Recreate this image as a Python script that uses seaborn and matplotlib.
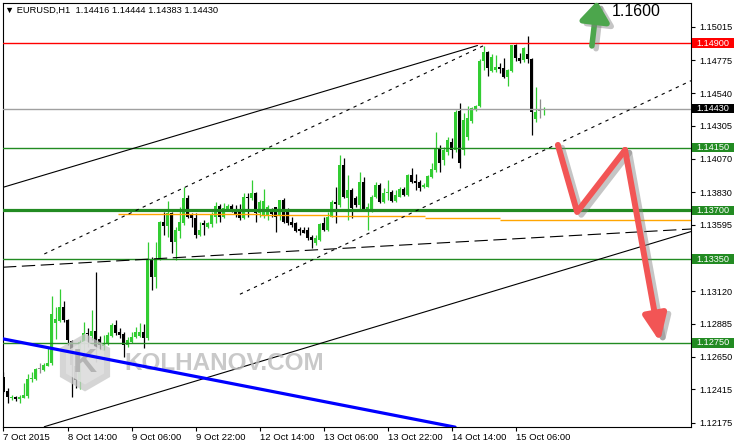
import numpy as np
import pandas as pd
import matplotlib
matplotlib.use("Agg")
import matplotlib.pyplot as plt
import matplotlib.patheffects as pe
from matplotlib.patches import RegularPolygon, Rectangle
from matplotlib.transforms import IdentityTransform, blended_transform_factory
import seaborn as sns

# EURUSD H1 candles, 7 Oct 2015 22:00 .. 15 Oct 2015
opens = [1.12507, 1.12405, 1.12354, 1.12364, 1.12345, 1.12356, 1.12371, 1.12488, 1.12491, 1.12562,
         1.12555, 1.12586, 1.12603, 1.12890, 1.12909, 1.13009, 1.12914, 1.12763, 1.12584, 1.12483,
         1.12758, 1.12823, 1.12799, 1.12835, 1.12777, 1.12729, 1.12746, 1.12801, 1.12878, 1.12830,
         1.12813, 1.12734, 1.12758, 1.12790, 1.12799, 1.12830, 1.12782, 1.13351, 1.13220, 1.13351,
         1.13618, 1.13590, 1.13683, 1.13475, 1.13554, 1.13607, 1.13786, 1.13666, 1.13647, 1.13523,
         1.13607, 1.13578, 1.13600, 1.13654, 1.13731, 1.13654, 1.13710, 1.13731, 1.13702, 1.13686,
         1.13643, 1.13798, 1.13786, 1.13822, 1.13679, 1.13666, 1.13666, 1.13690, 1.13722, 1.13661,
         1.13774, 1.13690, 1.13618, 1.13607, 1.13568, 1.13559, 1.13559, 1.13507, 1.13464, 1.13487,
         1.13607, 1.13559, 1.13654, 1.13762, 1.13738, 1.14025, 1.13786, 1.13846, 1.13786, 1.13738,
         1.13905, 1.13702, 1.13702, 1.13793, 1.13881, 1.13762, 1.13826, 1.13834, 1.13769, 1.13798,
         1.13853, 1.13810, 1.13953, 1.13912, 1.13905, 1.13865, 1.13869, 1.13941, 1.13989, 1.14138,
         1.14061, 1.14118, 1.14190, 1.14133, 1.14414, 1.14133, 1.14228, 1.14343, 1.14419, 1.14448,
         1.14773, 1.14837, 1.14701, 1.14706, 1.14730, 1.14718, 1.14658, 1.14701, 1.14885, 1.14790,
         1.14778, 1.14821, 1.14783, 1.14353, 1.14410, 1.14416]
highs = [1.12543, 1.12424, 1.12376, 1.12369, 1.12376, 1.12460, 1.12526, 1.12543, 1.12567, 1.12603,
         1.12603, 1.12722, 1.13088, 1.13009, 1.13136, 1.13052, 1.12921, 1.12770, 1.12646, 1.12770,
         1.12901, 1.12854, 1.12985, 1.13260, 1.12799, 1.12806, 1.12830, 1.12890, 1.12914, 1.12854,
         1.12830, 1.12794, 1.12830, 1.12866, 1.12894, 1.12885, 1.13475, 1.13363, 1.13475, 1.13626,
         1.13690, 1.13769, 1.13690, 1.13583, 1.13726, 1.13869, 1.13810, 1.13679, 1.13679, 1.13618,
         1.13631, 1.13618, 1.13690, 1.13762, 1.13745, 1.13750, 1.13745, 1.13745, 1.13738, 1.13745,
         1.13826, 1.13826, 1.13917, 1.13834, 1.13774, 1.13851, 1.13738, 1.13715, 1.13726, 1.13774,
         1.13786, 1.13715, 1.13654, 1.13618, 1.13583, 1.13578, 1.13578, 1.13523, 1.13523, 1.13607,
         1.13654, 1.13690, 1.13774, 1.13869, 1.14097, 1.14073, 1.13953, 1.13858, 1.13803, 1.13977,
         1.13941, 1.13750, 1.13810, 1.13905, 1.13894, 1.13858, 1.13917, 1.13846, 1.13846, 1.13869,
         1.13865, 1.13961, 1.14001, 1.13961, 1.13917, 1.13894, 1.13953, 1.14040, 1.14264, 1.14168,
         1.14154, 1.14226, 1.14219, 1.14419, 1.14472, 1.14396, 1.14448, 1.14443, 1.14455, 1.14783,
         1.14878, 1.14845, 1.14821, 1.14814, 1.14754, 1.14790, 1.14711, 1.14885, 1.14893, 1.14826,
         1.14873, 1.14950, 1.14790, 1.14583, 1.14498, 1.14444]
lows = [1.12390, 1.12321, 1.12340, 1.12335, 1.12321, 1.12352, 1.12352, 1.12471, 1.12483, 1.12531,
        1.12550, 1.12586, 1.12591, 1.12775, 1.12901, 1.12901, 1.12734, 1.12359, 1.12424, 1.12419,
        1.12675, 1.12722, 1.12770, 1.12612, 1.12698, 1.12698, 1.12734, 1.12794, 1.12806, 1.12782,
        1.12650, 1.12722, 1.12746, 1.12782, 1.12794, 1.12713, 1.12770, 1.13129, 1.13141, 1.13344,
        1.13523, 1.13511, 1.13392, 1.13344, 1.13499, 1.13595, 1.13643, 1.13583, 1.13499, 1.13518,
        1.13523, 1.13571, 1.13583, 1.13607, 1.13618, 1.13643, 1.13702, 1.13690, 1.13654, 1.13631,
        1.13636, 1.13654, 1.13774, 1.13618, 1.13654, 1.13643, 1.13631, 1.13654, 1.13547, 1.13631,
        1.13607, 1.13595, 1.13583, 1.13547, 1.13523, 1.13535, 1.13487, 1.13428, 1.13451, 1.13482,
        1.13554, 1.13552, 1.13650, 1.13607, 1.13726, 1.13786, 1.13631, 1.13643, 1.13726, 1.13702,
        1.13697, 1.13559, 1.13690, 1.13786, 1.13750, 1.13755, 1.13774, 1.13762, 1.13762, 1.13793,
        1.13805, 1.13805, 1.13894, 1.13846, 1.13841, 1.13858, 1.13865, 1.13930, 1.13977, 1.13977,
        1.14025, 1.14097, 1.14075, 1.14118, 1.14003, 1.14097, 1.14204, 1.14324, 1.14412, 1.14439,
        1.14706, 1.14663, 1.14694, 1.14694, 1.14682, 1.14647, 1.14591, 1.14694, 1.14773, 1.14759,
        1.14766, 1.14754, 1.14240, 1.14336, 1.14360, 1.14383]
closes = [1.12399, 1.12359, 1.12364, 1.12347, 1.12364, 1.12376, 1.12491, 1.12500, 1.12562, 1.12562,
          1.12591, 1.12605, 1.12957, 1.12921, 1.13009, 1.12914, 1.12770, 1.12591, 1.12483, 1.12758,
          1.12818, 1.12813, 1.12835, 1.12722, 1.12734, 1.12746, 1.12806, 1.12878, 1.12823, 1.12806,
          1.12734, 1.12770, 1.12794, 1.12825, 1.12830, 1.12782, 1.13351, 1.13220, 1.13351, 1.13618,
          1.13590, 1.13683, 1.13475, 1.13559, 1.13618, 1.13786, 1.13654, 1.13643, 1.13523, 1.13559,
          1.13595, 1.13611, 1.13666, 1.13731, 1.13654, 1.13715, 1.13731, 1.13710, 1.13666, 1.13643,
          1.13798, 1.13786, 1.13822, 1.13679, 1.13762, 1.13769, 1.13722, 1.13674, 1.13654, 1.13774,
          1.13614, 1.13611, 1.13595, 1.13554, 1.13554, 1.13540, 1.13499, 1.13487, 1.13499, 1.13602,
          1.13559, 1.13654, 1.13762, 1.13745, 1.14025, 1.13798, 1.13846, 1.13715, 1.13738, 1.13905,
          1.13702, 1.13726, 1.13793, 1.13881, 1.13762, 1.13822, 1.13834, 1.13769, 1.13810, 1.13853,
          1.13810, 1.13953, 1.13905, 1.13898, 1.13858, 1.13881, 1.13946, 1.13994, 1.14138, 1.14037,
          1.14133, 1.14204, 1.14133, 1.14407, 1.14037, 1.14348, 1.14360, 1.14432, 1.14448, 1.14773,
          1.14837, 1.14718, 1.14802, 1.14730, 1.14711, 1.14658, 1.14706, 1.14885, 1.14790, 1.14773,
          1.14862, 1.14783, 1.14407, 1.14407, 1.14410, 1.14430]

time_ticks = [0, 16, 32, 48, 64, 80, 96, 112, 128]
time_labels = ["7 Oct 2015", "8 Oct 14:00", "9 Oct 06:00", "9 Oct 22:00", "12 Oct 14:00",
               "13 Oct 06:00", "13 Oct 22:00", "14 Oct 14:00", "15 Oct 06:00"]
price_ticks = [1.15015, 1.14775, 1.14540, 1.14305, 1.14070, 1.13830, 1.13595,
               1.13120, 1.12885, 1.12650, 1.12415, 1.12175]

levels = [1.14900, 1.14430, 1.14150, 1.13700, 1.13350, 1.12750]
level_line_colors = ["#ff0000", "#a0a0a0", "#228b22", "#228b22", "#228b22", "#228b22"]
level_box_colors = ["#ff0000", "#000000", "#228b22", "#228b22", "#228b22", "#228b22"]
level_widths = [1.0, 1.0, 1.0, 2.3, 1.0, 1.0]

# stepped orange line
orange_start = [28.6, 64.1, 81.6, 105.4, 124.1]
orange_end = [64.1, 81.6, 105.4, 124.1, 171.9]
orange_level = [1.13677, 1.13667, 1.13660, 1.13647, 1.13634]

# trend lines: (x0, x1), (y0, y1)
upper_solid = ([-0.125, 118.5], [1.13865, 1.14882])
mid_dotted = ([10.2, 120.0], [1.13387, 1.14881])
low_dotted = ([59.1, 171.9], [1.13098, 1.14630])
long_dashed = ([-0.125, 171.9], [1.13292, 1.13566])
low_solid = ([10.2, 171.9], [1.12148, 1.13548])
blue_line = ([-0.125, 112.9], [1.12778, 1.12145])

# forecast arrows
red_x = [138.6, 143.4, 155.4, 164.1]
red_y = [1.14169, 1.13688, 1.14133, 1.12756]
green_x = [147.1, 148.4]
green_y = [1.14879, 1.15201]

sns.set_style("white")
plt.rcParams["font.family"] = ["Liberation Sans", "DejaVu Sans"]

W, H = 734, 445
L, R, T, B = 3, 691, 3, 427
fig = plt.figure(figsize=(W / 100, H / 100), dpi=100)
ax = fig.add_axes([L / W, 1 - B / H, (R - L) / W, (B - T) / H])
ax.set_xlim(-0.125, 171.875)
ax.set_ylim(1.12146, 1.15187)

df = pd.DataFrame({"o": opens, "h": highs, "l": lows, "c": closes})
df["i"] = np.arange(len(df))
col = np.where(df.c > df.o, "#32cd32", np.where(df.c < df.o, "#000000", "#8c8c8c"))
top = df[["h", "o", "c"]].max(axis=1)
bot = df[["l", "o", "c"]].min(axis=1)
ax.vlines(df.i, bot, top, colors=col, lw=0.9, zorder=2)
body_lo = np.minimum(df.o, df.c)
body_h = np.maximum((df.c - df.o).abs(), 0.00008)
ax.bar(df.i, body_h, bottom=body_lo, width=0.75, color=col, linewidth=0, zorder=2)

# horizontal levels
for p, lc, w in zip(levels, level_line_colors, level_widths):
    ax.axhline(p, color=lc, lw=w, zorder=3)
ax.hlines(orange_level, orange_start, orange_end, colors="#ffa500", lw=1.0, zorder=2.8)

# trend lines
sns.lineplot(x=upper_solid[0], y=upper_solid[1], color="black", lw=0.8, ax=ax, zorder=3)
sns.lineplot(x=mid_dotted[0], y=mid_dotted[1], color="black", lw=0.8, linestyle=(0, (3, 4)), ax=ax, zorder=3)
sns.lineplot(x=low_dotted[0], y=low_dotted[1], color="black", lw=0.8, linestyle=(0, (3, 4)), ax=ax, zorder=3)
sns.lineplot(x=long_dashed[0], y=long_dashed[1], color="black", lw=0.8, linestyle=(0, (12, 5)), ax=ax, zorder=3)
sns.lineplot(x=low_solid[0], y=low_solid[1], color="black", lw=0.8, ax=ax, zorder=3)
sns.lineplot(x=blue_line[0], y=blue_line[1], color="#0000ff", lw=2.3, ax=ax, zorder=3.5)

# watermark
wm_x = lambda px: (px - L) / (R - L)
wm_y = lambda py: (B - py) / (B - T)
ax.add_patch(RegularPolygon((85, H - 362.5), 6, radius=29, transform=IdentityTransform(),
                            fc="#c8c8c8", ec="none", alpha=0.75, zorder=3.2))
ax.add_patch(RegularPolygon((85, H - 362.5), 6, radius=22, transform=IdentityTransform(),
                            fc="#e2e2e2", ec="none", alpha=0.8, zorder=3.2))
ax.text(wm_x(85), wm_y(363), "K", transform=ax.transAxes, fontsize=24, fontweight="bold",
        color="#b4b4b4", ha="center", va="center", zorder=3.3)
ax.text(wm_x(124), wm_y(363), "KOLHANOV.COM", transform=ax.transAxes, fontsize=17.5,
        fontweight="bold", color="#bcbcbc", alpha=0.8, ha="left", va="center", zorder=3.3)

# red forecast zigzag
shadow = [pe.SimpleLineShadow(offset=(3, -2), shadow_color="#808080", alpha=0.45), pe.Normal()]
ax.plot(red_x[:3], red_y[:3], color="#f25555", lw=4.3, solid_capstyle="round",
        solid_joinstyle="round", path_effects=shadow, zorder=5)
ax.annotate("", xy=(red_x[3], red_y[3]), xytext=(red_x[2], red_y[2]), zorder=5,
            arrowprops=dict(arrowstyle="-|>,head_length=0.8,head_width=0.35", lw=4.3,
                            color="#f25555", mutation_scale=20, shrinkA=0, shrinkB=0,
                            path_effects=shadow))
ax.annotate("", xy=(green_x[1], green_y[1]), xytext=(green_x[0], green_y[0]), zorder=5,
            annotation_clip=False,
            arrowprops=dict(arrowstyle="-|>,head_length=0.6,head_width=0.45", lw=4.0,
                            color="#4ca64c", mutation_scale=20, shrinkA=0, shrinkB=0,
                            path_effects=shadow, clip_on=False))
fig.text(612 / W, 1 - 11 / H, "1.1600", fontsize=11.5, color="black", ha="left", va="center")

# axes styling
for s in ax.spines.values():
    s.set_color("black")
    s.set_linewidth(0.8)
ax.yaxis.tick_right()
ax.set_yticks(price_ticks)
ax.set_yticklabels([f"{p:.5f}" for p in price_ticks])
ax.set_xticks(time_ticks)
ax.set_xticklabels(time_labels, ha="left")
ax.tick_params(axis="y", direction="out", length=3, width=0.8, pad=3, labelsize=6.6,
               colors="black", right=True, left=False)
ax.tick_params(axis="x", direction="out", length=3, width=0.8, pad=1.5, labelsize=6.8,
               colors="black", bottom=True)
ax.set_xlabel("")
ax.set_ylabel("")
ax.grid(False)

# level price boxes on the scale
bt = blended_transform_factory(ax.transAxes, ax.transData)
box_h = 0.00068
for p, bc in zip(levels, level_box_colors):
    ax.add_patch(Rectangle((wm_x(692), p - box_h / 2), wm_x(734) - wm_x(692), box_h,
                           transform=bt, fc=bc, ec="none", clip_on=False, zorder=6))
    ax.text(wm_x(696.5), p, f"{p:.5f}", transform=bt, color="white", fontsize=6.6,
            ha="left", va="center", clip_on=False, zorder=7)

fig.text(5 / W, 1 - 10.7 / H, "\u25bc EURUSD,H1  1.14416 1.14444 1.14383 1.14430",
         fontsize=6.7, color="black", ha="left", va="center")

fig.savefig("out.png", dpi=100)
